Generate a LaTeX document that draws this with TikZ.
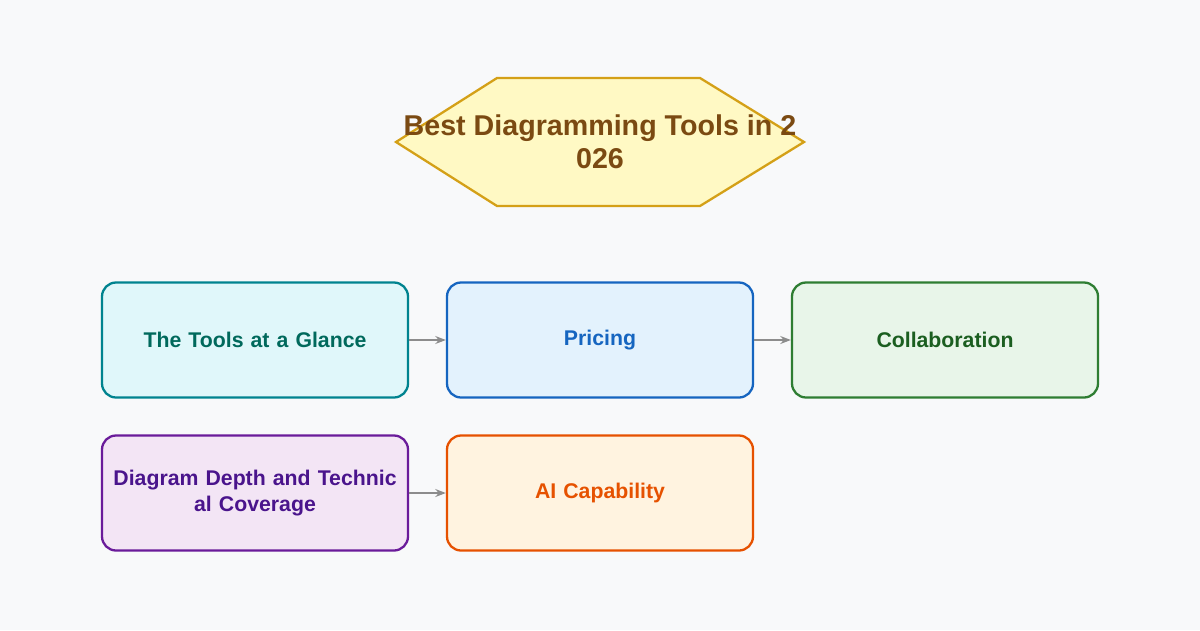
\documentclass[tikz,border=0pt]{standalone}
\usepackage{fontspec}
\setmainfont{Liberation Sans}
\usetikzlibrary{arrows.meta,positioning}
\definecolor{bgc}{HTML}{F8F9FA}
\definecolor{hexfill}{HTML}{FFF9C4}
\definecolor{hexline}{HTML}{D4A017}
\definecolor{hextext}{HTML}{7B4A12}
\definecolor{tealfill}{HTML}{E0F7FA}
\definecolor{tealline}{HTML}{00838F}
\definecolor{tealtext}{HTML}{00695C}
\definecolor{bluefill}{HTML}{E3F2FD}
\definecolor{blueline}{HTML}{1565C0}
\definecolor{greenfill}{HTML}{E8F5E9}
\definecolor{greenline}{HTML}{2E7D32}
\definecolor{greentext}{HTML}{1B5E20}
\definecolor{purplefill}{HTML}{F3E5F5}
\definecolor{purpleline}{HTML}{6A1B9A}
\definecolor{purpletext}{HTML}{4A148C}
\definecolor{orangefill}{HTML}{FFF3E0}
\definecolor{orangeline}{HTML}{E65100}
\tikzset{
  box/.style={rounded corners=8pt, line width=1.3pt, minimum width=6.12cm,
    minimum height=2.3cm, inner xsep=1pt, text width=5.9cm, align=center,
    font=\bfseries\fontsize{12.1}{14.5}\selectfont},
  link/.style={-{Stealth[length=6pt]}, draw=gray!90, line width=1pt}
}
\begin{document}
\begin{tikzpicture}
  \fill[bgc] (0,0) rectangle (24,12.6);
  \useasboundingbox (0,0) rectangle (24,12.6);
  % title hexagon
  \draw[fill=hexfill, draw=hexline, line width=1.3pt]
    (7.92,9.76) -- (9.94,11.04) -- (14,11.04) -- (16.08,9.76)
    -- (14,8.48) -- (9.94,8.48) -- cycle;
  \node[text=hextext, align=center, font=\bfseries\fontsize{16.3}{18.8}\selectfont]
    (title) at (12,9.76) {Best Diagramming Tools in 2\\026};
  % sections
  \node[box, fill=tealfill, draw=tealline, text=tealtext]
    (glance) at (5.1,5.8) {The Tools at a Glance};
  \node[box, fill=bluefill, draw=blueline, text=blueline]
    (pricing) at (12,5.8) {Pricing};
  \node[box, fill=greenfill, draw=greenline, text=greentext]
    (collab) at (18.9,5.8) {Collaboration};
  \node[box, fill=purplefill, draw=purpleline, text=purpletext]
    (depth) at (5.1,2.74) {Diagram Depth and Technic\\al Coverage};
  \node[box, fill=orangefill, draw=orangeline, text=orangeline]
    (ai) at (12,2.74) {AI Capability};
  \draw[link] (glance) -- (pricing);
  \draw[link] (pricing) -- (collab);
  \draw[link] (depth) -- (ai);
\end{tikzpicture}
\end{document}
